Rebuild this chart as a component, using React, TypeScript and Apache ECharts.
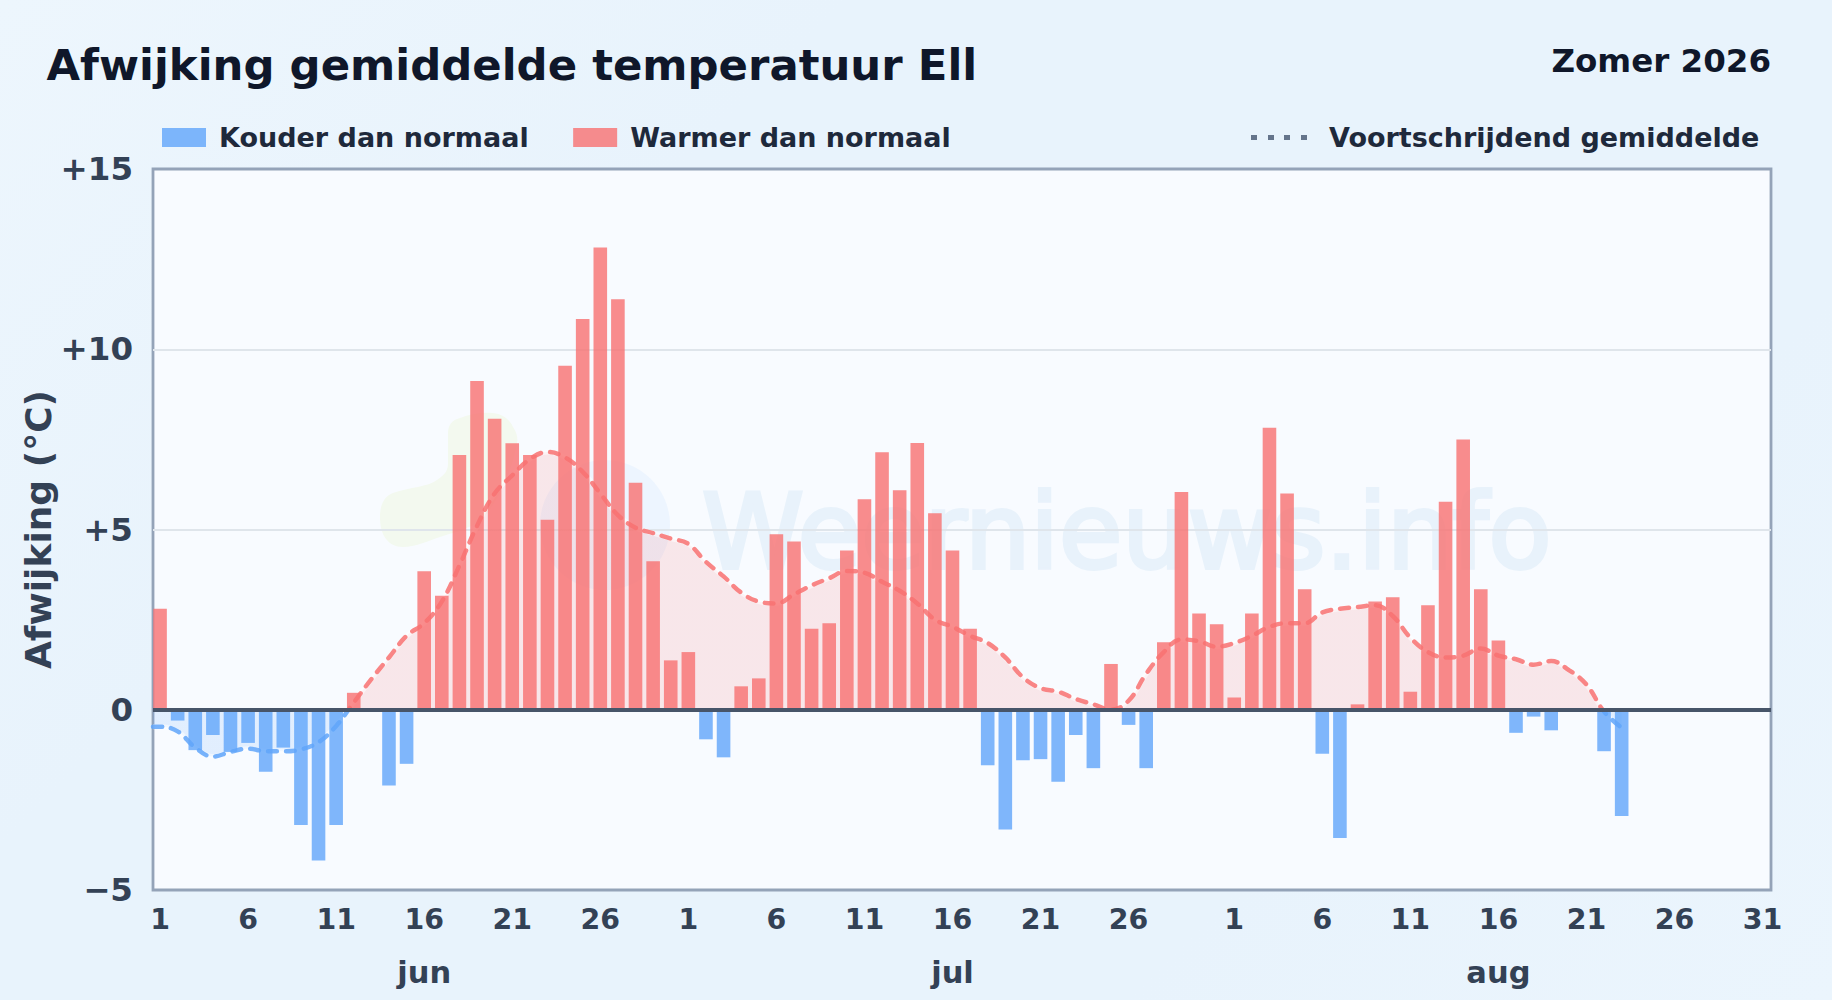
import React, { useEffect, useRef } from "react";
import * as echarts from "echarts";

const titleText = "Afwijking gemiddelde temperatuur Ell";
const seasonText = "Zomer 2026";
const yAxisTitle = "Afwijking (°C)";
const coldName = "Kouder dan normaal";
const warmName = "Warmer dan normaal";
const avgName = "Voortschrijdend gemiddelde";

const dayTickPositions = [0, 5, 10, 15, 20, 25, 30, 35, 40, 45, 50, 55, 61, 66, 71, 76, 81, 86, 91];
const dayTickLabels = ["1", "6", "11", "16", "21", "26", "1", "6", "11", "16", "21", "26", "1", "6", "11", "16", "21", "26", "31"];
const monthPositions = [15, 45, 76];
const monthLabels = ["jun", "jul", "aug"];

// One value per day, 1 June to 31 August; null = no bar
const anomalies: (number | null)[] = [
  2.8, -0.3, -1.12, -0.7, -1.17, -0.92, -1.72, -1.05, -3.2, -4.18,
  -3.2, 0.47, null, -2.1, -1.5, 3.84, 3.16, 7.07, 9.12, 8.07,
  7.39, 7.07, 5.27, 9.54, 10.84, 12.82, 11.39, 6.3, 4.12, 1.37,
  1.6, -0.82, -1.32, 0.65, 0.87, 4.87, 4.67, 2.25, 2.4, 4.42,
  5.84, 7.14, 6.09, 7.4, 5.45, 4.42, 2.25, -1.54, -3.32, -1.4,
  -1.37, -2.0, -0.7, -1.62, 1.27, -0.42, -1.62, 1.87, 6.04, 2.67,
  2.37, 0.34, 2.67, 7.82, 6.0, 3.34, -1.22, -3.56, 0.15, 3.0,
  3.12, 0.5, 2.9, 5.77, 7.5, 3.34, 1.92, -0.64, -0.19, -0.57,
  null, null, -1.15, -2.95,
];

const movingAverage: number[] = [
  -0.47, -0.6, -1.05, -1.3, -1.17, -1.08, -1.15, -1.15, -1.1, -0.9,
  -0.45, 0.2, 0.85, 1.45, 2.05, 2.4, 3.0, 4.0, 5.1, 6.0,
  6.5, 6.95, 7.15, 7.0, 6.6, 6.0, 5.4, 5.05, 4.9, 4.75,
  4.6, 4.1, 3.7, 3.25, 3.0, 2.95, 3.2, 3.45, 3.65, 3.85,
  3.8, 3.55, 3.3, 2.95, 2.5, 2.3, 2.05, 1.85, 1.45, 0.9,
  0.6, 0.5, 0.3, 0.15, 0.0, 0.25, 1.0, 1.6, 1.95, 1.9,
  1.75, 1.85, 2.05, 2.3, 2.4, 2.4, 2.7, 2.8, 2.85, 2.9,
  2.6, 2.0, 1.6, 1.45, 1.5, 1.7, 1.5, 1.4, 1.25, 1.35,
  1.1, 0.7, -0.05, -0.5,
];

const FONT = '"DejaVu Sans", sans-serif';

echarts.graphic.registerShape(
  "wmBlob",
  echarts.graphic.extendPath(
    "M380 517 C380 500 388 495 393 493 C410 487 428 487 437 480 C446 474 448 470 448 463 L448 433 C448 425 452 420 460 418 C470 414 482 412 493 413 C503 414 510 420 513 427 C517 433 518 438 517 443 C515 455 512 465 507 477 C500 495 488 515 477 523 C465 530 452 533 440 537 C428 541 415 547 403 547 C388 547 380 535 380 517 Z",
    {}
  )
);

export default function App() {
  const ref = useRef<HTMLDivElement>(null);
  useEffect(() => {
    const chart = echarts.init(ref.current!, undefined, { renderer: "svg" });
    const xMin = -0.4;
    const xMax = 91.48;
    const cold = anomalies.map((v, i) => [i, v !== null && v < 0 ? v : null]);
    const warm = anomalies.map((v, i) => [i, v !== null && v >= 0 ? v : null]);
    const avg = [[xMin, movingAverage[0]], ...movingAverage.map((v, i) => [i, v])];
    const pieces = [
      { min: -5, max: 0, color: "#60a5fa" },
      { min: 0, max: 15, color: "#f87171" },
    ];
    chart.setOption({
      animation: false,
      backgroundColor: "transparent",
      textStyle: { fontFamily: FONT },
      title: [
        { text: titleText, left: 41.5, top: 38, textStyle: { fontFamily: FONT, fontWeight: "bold", fontSize: 43.4, color: "#0f172a" } },
        { text: seasonText, right: 56, top: 39.5, textStyle: { fontFamily: FONT, fontWeight: "bold", fontSize: 32.5, color: "#0f172a" } },
      ],
      legend: [
        {
          left: 157, top: 119, itemWidth: 44, itemHeight: 19, itemGap: 44.5, icon: "rect",
          selectedMode: false,
          data: [coldName, warmName],
          textStyle: { fontFamily: FONT, fontWeight: "bold", fontSize: 27, color: "#1e293b", padding: [0, 0, 0, 8] },
        },
        {
          left: 1246, top: 119, itemWidth: 56, itemHeight: 5,
          selectedMode: false,
          data: [{
            name: avgName,
            icon: "path://M0 0h6v5H0zM17 0h6v5h-6zM33 0h6v5h-6zM50 0h6v5h-6z",
            itemStyle: { color: "#64748b", opacity: 1 },
          }],
          textStyle: { fontFamily: FONT, fontWeight: "bold", fontSize: 27, color: "#1e293b", padding: [0, 0, 0, 17] },
        },
      ],
      grid: {
        show: true, left: 153, top: 169, width: 1618, height: 721,
        backgroundColor: "#f8fbff", borderColor: "#94a3b8", borderWidth: 2.8,
      },
      xAxis: [
        {
          type: "value", min: xMin, max: xMax, splitLine: { show: false },
          axisLine: { show: false }, axisTick: { show: false },
          axisLabel: {
            customValues: dayTickPositions,
            margin: 15,
            fontFamily: FONT, fontWeight: "bold", fontSize: 28.4, color: "#334155",
            formatter: (v: number) => dayTickLabels[dayTickPositions.indexOf(v)] ?? "",
          },
        },
        {
          type: "value", min: xMin, max: xMax, position: "bottom", offset: 52, splitLine: { show: false },
          axisLine: { show: false }, axisTick: { show: false },
          axisLabel: {
            customValues: monthPositions,
            margin: 15,
            fontFamily: FONT, fontWeight: "bold", fontSize: 30.5, color: "#334155",
            formatter: (v: number) => monthLabels[monthPositions.indexOf(v)] ?? "",
          },
        },
      ],
      yAxis: {
        type: "value", min: -5, max: 15, interval: 5, z: 1.5,
        name: yAxisTitle, nameLocation: "middle", nameGap: 96.5, nameMoveOverlap: false,
        nameTextStyle: { fontFamily: FONT, fontWeight: "bold", fontSize: 36, color: "#334155" },
        axisLine: { show: false }, axisTick: { show: false },
        splitLine: { showMinLine: false, showMaxLine: false, lineStyle: { color: "#dfe5eb", width: 1.8 } },
        axisLabel: {
          margin: 20, fontFamily: FONT, fontWeight: "bold", fontSize: 32.5, color: "#334155", padding: [5, 0, 0, 0],
          formatter: (v: number) => (v > 0 ? `+${v}` : v < 0 ? `\u2212${-v}` : "0"),
        },
      },
      visualMap: {
        show: false, type: "piecewise", seriesIndex: [0, 3], dimension: 1, pieces,
      },
      graphic: [
        { type: "wmBlob", z: 1, silent: true, style: { fill: "#f3f9ef" } },
        { type: "circle", z: 1, silent: true, shape: { cx: 605, cy: 525, r: 65 }, style: { fill: "rgba(147,197,253,0.1)" } },
        {
          type: "text", z: 1, silent: true, x: 702, y: 532,
          style: { text: "Weernieuws.info", font: `103px ${FONT}`, fill: "#e8f2fb", stroke: "#e8f2fb", lineWidth: 4, textAlign: "left", textVerticalAlign: "middle" },
        },
      ],
      series: [
        {
          name: "avgArea", type: "line", data: avg, smooth: 0.4, showSymbol: false, symbol: "none", z: 1.8, silent: true,
          lineStyle: { color: "rgba(255,255,255,0.5)", width: 5 },
          areaStyle: { opacity: 0.15, origin: 0 },
        },
        {
          name: coldName, type: "bar", data: cold, barWidth: 13.6, barGap: "-100%", z: 2,
          itemStyle: { color: "#60a5fa", opacity: 0.8 },
        },
        {
          name: warmName, type: "bar", data: warm, barWidth: 13.6, barGap: "-100%", z: 2,
          itemStyle: { color: "#f87171", opacity: 0.8 },
          markLine: {
            silent: true, symbol: "none", z: 5, label: { show: false },
            lineStyle: { color: "#475569", width: 4, type: "solid" },
            data: [{ yAxis: 0 }],
          },
        },
        {
          name: avgName, type: "line", data: avg, smooth: 0.4, showSymbol: false, symbol: "none", z: 3, silent: true,
          lineStyle: { width: 4.5, type: [9, 9], cap: "round", opacity: 0.85 },
        },
      ],
    });
    return () => chart.dispose();
  }, []);
  return (
    <div
      ref={ref}
      style={{
        position: "fixed", left: 0, top: 0, width: 1832, height: 1000,
        background: "linear-gradient(135deg,#edf6fd 0%,#e8f3fc 30%,#e8f3fc 75%,#ebf5fd 100%)",
      }}
    />
  );
}
